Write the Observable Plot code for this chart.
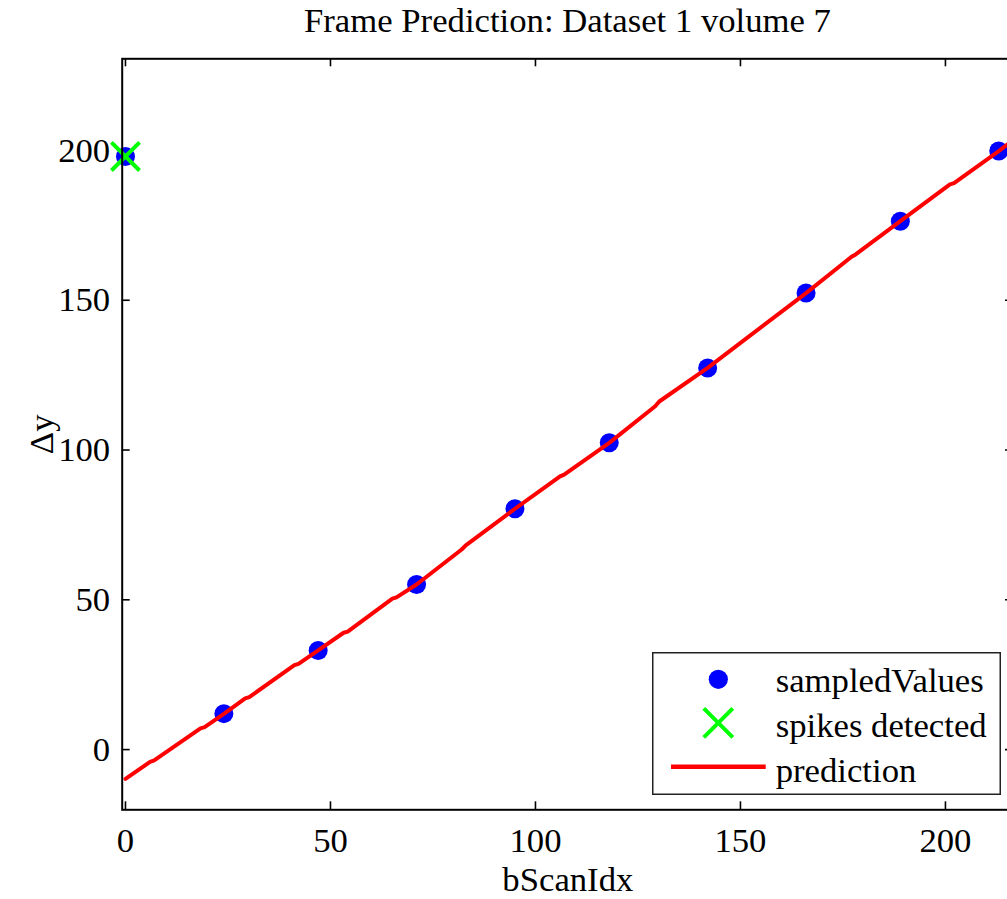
<!DOCTYPE html>
<html>
<head>
<meta charset="utf-8">
<script src="https://cdn.jsdelivr.net/npm/d3@7"></script>
<script src="https://cdn.jsdelivr.net/npm/@observablehq/plot@0.6"></script>
<style>
  html, body { margin: 0; padding: 0; background: #fff; overflow: hidden; }
  #wrap { position: relative; width: 1007px; height: 899px; overflow: hidden;
          font-family: "Liberation Serif", "Times New Roman", serif; color: #000; }
  #title { position: absolute; left: 122px; width: 891px; top: 0; height: 41px; line-height: 41px;
           text-align: center; font-size: 34.7px; white-space: nowrap; }
  #chart { position: absolute; left: 0; top: 41px; width: 1020px; }
  #chart svg { max-width: none !important; }
  #legend { position: absolute; left: 652px; top: 652px; }
</style>
</head>
<body>
<div id="wrap">
  <div id="title"></div>
  <div id="chart"></div>
  <div id="legend"></div>
</div>
<script>
// Frame prediction for dataset 1, volume 7
const titleText = "Frame Prediction: Dataset 1 volume 7";
const xLabel = "bScanIdx";
const yLabel = "Δy";

const xTicks = [0, 50, 100, 150, 200];
const yTicks = [0, 50, 100, 150, 200];

// sampled B-scan offsets
const sampledX = [0, 24, 47, 71, 95, 118, 142, 166, 189, 213];
const sampledY = [198, 12, 33.1, 55.1, 80.4, 102.4, 127.4, 152.4, 176.4, 199.8];

// samples flagged as spikes
const spikeX = [0];
const spikeY = [198];

// predicted offset per B-scan
const predX = [0, 6.0, 7.0, 18.3, 19.3, 24, 29.2, 30.2, 41.2, 42.2, 47, 53.2, 54.2, 65.1, 66.1, 71,
               82.0, 83.0, 95, 106.0, 107.0, 118, 129.2, 130.2, 142, 166, 177.1, 178.1, 189,
               201.1, 202.1, 213, 216];
const predY = [-9.8, -4.1, -3.6, 7.1, 7.5, 11.9, 17.1, 17.5, 28.2, 28.6, 33.1, 39.0, 39.4, 50.4, 50.8, 55.1,
               66.8, 68.2, 80.4, 91.2, 91.8, 102.4, 114.6, 116.2, 127.4, 152.4, 164.5, 165.3, 176.4,
               188.7, 189.1, 199.8, 202.9];

const legendLabels = ["sampledValues", "spikes detected", "prediction"];

const sampled = sampledX.map((x, i) => ({x, y: sampledY[i]}));
const spikes = spikeX.map((x, i) => ({x, y: spikeY[i]}));
const pred = predX.map((x, i) => ({x, y: predY[i]}));

const FONT = "Liberation Serif, Times New Roman, serif";
const FS = 34.7;
const W = 1020, H = 858;
const mL = 121.7, mR = 7, mT = 17.3, mB = 89.7;
const innerW = W - mL - mR, innerH = H - mT - mB;
const tick = 8;

document.getElementById("title").textContent = titleText;

const chart = Plot.plot({
  width: W,
  height: H,
  marginLeft: mL,
  marginRight: mR,
  marginTop: mT,
  marginBottom: mB,
  style: {fontFamily: FONT, background: "transparent", maxWidth: "none"},
  x: {domain: [-0.8, 216.6], axis: null},
  y: {domain: [-20.1, 230.6], axis: null},
  marks: [
    // inward tick marks on all four sides
    Plot.ruleX(xTicks, {x: d => d, insetTop: innerH - tick, stroke: "black", strokeWidth: 1.6}),
    Plot.ruleX(xTicks, {x: d => d, insetBottom: innerH - tick, stroke: "black", strokeWidth: 1.6}),
    Plot.ruleY(yTicks, {y: d => d, insetRight: innerW - tick, stroke: "black", strokeWidth: 1.6}),
    Plot.ruleY(yTicks, {y: d => d, insetLeft: innerW - tick, stroke: "black", strokeWidth: 1.6}),
    // tick labels
    Plot.text(xTicks, {x: d => d, text: d => String(d), frameAnchor: "bottom", lineAnchor: "middle",
                       textAnchor: "middle", dy: 30.6, fontSize: FS, fontFamily: FONT, fill: "black"}),
    Plot.text(yTicks, {y: d => d, text: d => String(d), frameAnchor: "left", lineAnchor: "middle",
                       textAnchor: "end", dx: -12, fontSize: FS, fontFamily: FONT, fill: "black"}),
    Plot.dot(sampled, {x: "x", y: "y", r: 9.5, fill: "#0000ff", stroke: "none"}),
    Plot.line(pred, {x: "x", y: "y", stroke: "#ff0000", strokeWidth: 4, clip: true}),
    Plot.dot(spikes, {x: "x", y: "y", symbol: "times", r: 12.8, stroke: "#00ff00", strokeWidth: 4}),
    Plot.frame({stroke: "black", strokeWidth: 2}),
    Plot.text([xLabel], {frameAnchor: "bottom", dy: 70.3, lineAnchor: "middle", textAnchor: "middle",
                         text: d => d, fontSize: FS, fontFamily: FONT, fill: "black"}),
    Plot.text([yLabel], {frameAnchor: "left", dx: -80, rotate: -90, lineAnchor: "middle", textAnchor: "middle",
                         text: d => d, fontSize: FS, fontFamily: FONT, fill: "black"})
  ]
});
document.getElementById("chart").appendChild(chart);

// legend box
const lg = d3.select("#legend").append("svg")
  .attr("width", 349).attr("height", 143)
  .style("display", "block");
lg.append("rect").attr("x", 0.75).attr("y", 0.75).attr("width", 347.5).attr("height", 141.5)
  .attr("fill", "#fff").attr("stroke", "#222").attr("stroke-width", 1.5);
const symX = 66.3;
lg.append("circle").attr("cx", symX).attr("cy", 27.3).attr("r", 9.6).attr("fill", "#0000ff");
const xh = 14.5, xc = 70.8;
lg.append("path")
  .attr("d", `M${symX - xh},${xc - xh}L${symX + xh},${xc + xh}M${symX + xh},${xc - xh}L${symX - xh},${xc + xh}`)
  .attr("stroke", "#00ff00").attr("stroke-width", 4).attr("fill", "none");
lg.append("line").attr("x1", 19).attr("x2", 113.7).attr("y1", 114.7).attr("y2", 114.7)
  .attr("stroke", "#ff0000").attr("stroke-width", 4.5);
const baselines = [39.7, 84.7, 129.7];
lg.selectAll("text.lbl").data(legendLabels).join("text")
  .attr("class", "lbl")
  .attr("x", 123.7)
  .attr("y", (d, i) => baselines[i])
  .attr("font-family", FONT)
  .attr("font-size", FS)
  .attr("fill", "#000")
  .text(d => d);
</script>
</body>
</html>
